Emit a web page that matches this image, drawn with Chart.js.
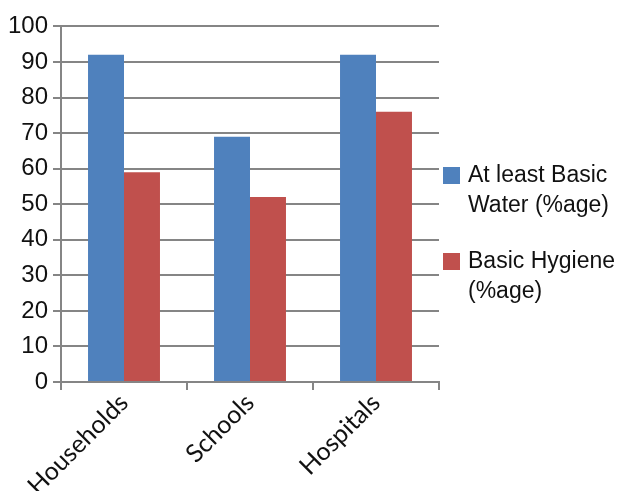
<!DOCTYPE html>
<html>
<head>
<meta charset="utf-8">
<script src="https://cdn.jsdelivr.net/npm/chart.js@4.4.1/dist/chart.umd.min.js"></script>
<style>
  html, body { margin: 0; padding: 0; background: #fff; }
  #wrap { position: relative; width: 631px; height: 491px; overflow: hidden; }
  #chart { position: absolute; left: 0; top: 7px; }
  #legend { position: absolute; left: 443px; top: 159px; font-family: "Liberation Sans", Arial, sans-serif; font-size: 23px; color: #111; line-height: 30px; }
  .item { position: relative; padding-left: 25px; margin-bottom: 26px; }
  .swatch { position: absolute; left: 0; top: 8px; width: 17px; height: 17px; }
</style>
</head>
<body>
<div id="wrap">
  <canvas id="chart" width="631" height="484"></canvas>
  <div id="legend"></div>
</div>
<script>
// Service coverage by setting
const categories = ['Households', 'Schools', 'Hospitals'];
const waterValues = [92, 69, 92];
const hygieneValues = [59, 52, 76];
const seriesNames = [['At least Basic', 'Water (%age)'], ['Basic Hygiene', '(%age)']];
const seriesColors = ['#4F81BD', '#C0504D'];

const gridColor = '#858585';

const ctx = document.getElementById('chart').getContext('2d');
new Chart(ctx, {
    type: 'bar',
    data: {
        labels: categories,
        datasets: [
            { label: seriesNames[0].join(' '), data: waterValues, backgroundColor: seriesColors[0] },
            { label: seriesNames[1].join(' '), data: hygieneValues, backgroundColor: seriesColors[1] }
        ]
    },
    options: {
        responsive: false,
        animation: false,
        layout: { padding: { top: 11, right: 192, left: 0, bottom: 0 } },
        datasets: { bar: { barPercentage: 1, categoryPercentage: 0.571 } },
        plugins: { legend: { display: false }, tooltip: { enabled: false } },
        scales: {
            y: {
                min: 0,
                max: 100,
                ticks: {
                    stepSize: 10,
                    padding: 5,
                    color: '#111',
                    font: { family: '"Liberation Sans", Arial, sans-serif', size: 24 }
                },
                grid: { color: gridColor, lineWidth: 2, tickLength: 8 },
                border: { color: gridColor, width: 2 },
                afterFit: s => { s.width = 61; }
            },
            x: {
                ticks: {
                    maxRotation: 45,
                    minRotation: 45,
                    padding: -2,
                    color: '#111',
                    font: { family: 'Lato, "Open Sans", sans-serif', size: 25 }
                },
                grid: { display: true, drawOnChartArea: false, offset: true, color: gridColor, lineWidth: 2, tickLength: 8 },
                border: { color: gridColor, width: 2 },
                afterFit: s => { s.height = 109; }
            }
        }
    }
});

// Legend with wrapped labels
const legend = document.getElementById('legend');
seriesNames.forEach((lines, i) => {
    const item = document.createElement('div');
    item.className = 'item';
    const sw = document.createElement('span');
    sw.className = 'swatch';
    sw.style.background = seriesColors[i];
    item.appendChild(sw);
    lines.forEach(t => {
        const d = document.createElement('div');
        d.textContent = t;
        item.appendChild(d);
    });
    legend.appendChild(item);
});
</script>
</body>
</html>
